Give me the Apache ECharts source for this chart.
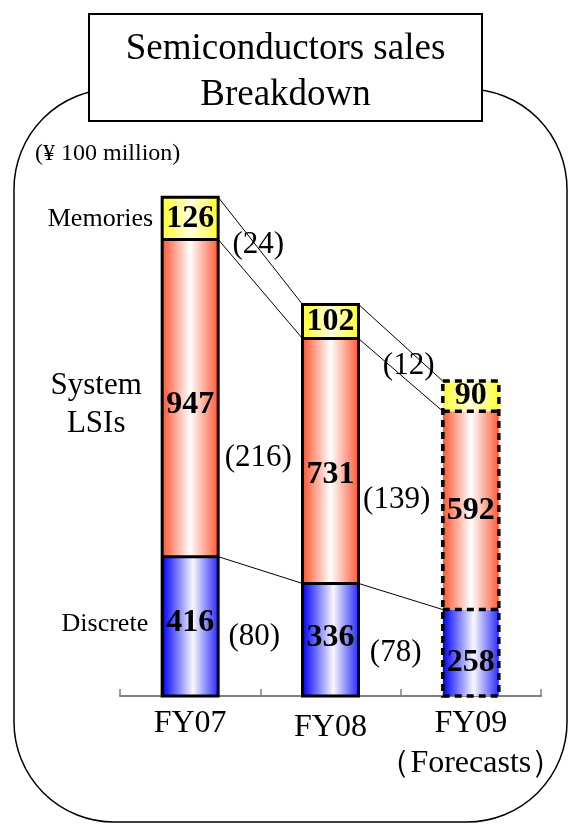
<!DOCTYPE html>
<html>
<head>
<meta charset="utf-8">
<script src="https://cdn.jsdelivr.net/npm/echarts@6/dist/echarts.min.js"></script>
<style>
  html, body { margin: 0; padding: 0; background: #fff; }
  #chart { width: 569px; height: 825px; }
</style>
</head>
<body>
<div id="chart"></div>
<script>
// Semiconductor sales by product group, in units of ¥100 million
const years = ['FY07', 'FY08', 'FY09'];
const yearNotes = ['', '', '（Forecasts）'];
const discrete = [416, 336, 258];
const systemLSIs = [947, 731, 592];
const memories = [126, 102, 90];
const segmentNames = ['Discrete', 'System\nLSIs', 'Memories'];
const forecastFlags = [false, false, true];
const unitText = '(¥ 100 million)';
const titleText = 'Semiconductors sales\nBreakdown';

const SERIF = '"Liberation Serif", "Times New Roman", "DejaVu Serif", serif';
const BAR_W = 56;

const segments = [discrete, systemLSIs, memories];
const palette = [
  { left: '#0000ff', mid: '#f8f8ff', right: '#2a2aff', at: 0.55 },
  { left: '#ff5530', mid: '#ffffff', right: '#ff5a36', at: 0.5 },
  { left: '#ffff33', mid: '#ffffe0', right: '#ffff33', at: 0.5 }
];

function barFill(p) {
  return new echarts.graphic.LinearGradient(0, 0, 1, 0, [
    { offset: 0, color: p.left },
    { offset: p.at, color: p.mid },
    { offset: 1, color: p.right }
  ]);
}

// cumulative top of each stacked segment for a given year
function cumTop(i, level) {
  let s = 0;
  for (let k = 0; k <= level; k++) s += segments[k][i];
  return s;
}
function segCenter(i, level) {
  return cumTop(i, level) - segments[level][i] / 2;
}

// small vertical offsets (px) for the value labels inside the bars: [level][year]
const valueLabelShift = [[-4, -2, 10], [7, 14, 0], [0, 0, 0]];

const barSeries = segments.map((vals, level) => ({
  type: 'bar',
  name: segmentNames[level],
  stack: 'sales',
  barWidth: BAR_W,
  z: 3,
  data: vals.map((v, i) => ({
    value: v,
    itemStyle: { color: barFill(palette[level]), borderWidth: 0 },
    label: { offset: [0, valueLabelShift[level][i]] }
  })),
  label: {
    show: true,
    position: 'inside',
    color: '#000',
    fontFamily: SERIF,
    fontWeight: 'bold',
    fontSize: 32
  }
}));

// outline of each bar plus the boundaries between its segments
const outlineSeries = {
  type: 'custom',
  z: 4,
  silent: true,
  data: years.map((y, i) => [i]),
  encode: { x: 0, y: -1 },
  renderItem: function (params, api) {
    const i = api.value(0);
    const half = BAR_W / 2;
    const top = api.coord([i, cumTop(i, segments.length - 1)]);
    const base = api.coord([i, 0]);
    const dashed = forecastFlags[i];
    const stroke = dashed
      ? { stroke: '#000', lineWidth: 3.5, lineDash: [7, 5], fill: 'none' }
      : { stroke: '#000', lineWidth: 3, fill: 'none' };
    const children = [{
      type: 'rect',
      shape: { x: top[0] - half, y: top[1], width: BAR_W, height: base[1] - top[1] },
      style: stroke
    }];
    for (let level = 0; level < segments.length - 1; level++) {
      const p = api.coord([i, cumTop(i, level)]);
      children.push({
        type: 'line',
        shape: { x1: p[0] - half, y1: p[1], x2: p[0] + half, y2: p[1] },
        style: stroke
      });
    }
    return { type: 'group', children: children };
  }
};

// label nudges (px) for the change labels: [pair][level]
const diffNudge = [
  [[-6, 4], [-2, 28], [-2, -25]],
  [[-5, 7], [-4, 14], [8, 7]]
];

// connectors between consecutive bars plus the year-on-year change labels
const connectorData = [];
for (let i = 0; i < years.length - 1; i++) {
  for (let level = 0; level < segments.length; level++) connectorData.push([i, level]);
}

const connectorSeries = {
  type: 'custom',
  z: 2,
  silent: true,
  data: connectorData,
  encode: { x: 0, y: -1 },
  renderItem: function (params, api) {
    const i = api.value(0);
    const level = api.value(1);
    const half = BAR_W / 2;
    const a = api.coord([i, cumTop(i, level)]);
    const b = api.coord([i + 1, cumTop(i + 1, level)]);
    const ca = api.coord([i, segCenter(i, level)]);
    const cb = api.coord([i + 1, segCenter(i + 1, level)]);
    const change = segments[level][i] - segments[level][i + 1];
    const nudge = diffNudge[i][level];
    const lx = ((a[0] + half) + (b[0] - half)) / 2 + nudge[0];
    const ly = (ca[1] + cb[1]) / 2 + nudge[1];
    return {
      type: 'group',
      children: [
        {
          type: 'line',
          shape: { x1: a[0] + half, y1: a[1], x2: b[0] - half, y2: b[1] },
          style: { stroke: '#000', lineWidth: 1 }
        },
        {
          type: 'text',
          x: lx, y: ly,
          style: {
            text: '(' + change + ')',
            fill: '#000',
            font: '31px ' + SERIF,
            align: 'center',
            verticalAlign: 'middle'
          }
        }
      ]
    };
  }
};

const chart = echarts.init(document.getElementById('chart'), null, { renderer: 'canvas' });

chart.setOption({
  animation: false,
  backgroundColor: '#fff',
  grid: { left: 120, right: 28, top: 193.5, bottom: 129, containLabel: false },
  xAxis: {
    type: 'category',
    data: years.map((y, i) => (i === 1 ? { value: y, textStyle: { padding: [4, 0, 0, 0] } } : y)),
    axisLine: { lineStyle: { color: '#808080', width: 2 } },
    axisTick: { show: true, inside: true, interval: 0, length: 7, lineStyle: { color: '#808080', width: 1.5 } },
    axisLabel: {
      interval: 0,
      margin: 8,
      color: '#000',
      fontFamily: SERIF,
      fontSize: 32,
      lineHeight: 40,
      formatter: function (v, idx) {
        return yearNotes[idx] ? v + '\n' + yearNotes[idx] : v;
      }
    }
  },
  yAxis: {
    type: 'value',
    min: 0,
    max: 1500,
    show: false
  },
  series: barSeries.concat([outlineSeries, connectorSeries]),
  graphic: [
    {
      type: 'rect',
      z: 0,
      shape: { x: 14, y: 89, width: 553, height: 733, r: 100 },
      style: { fill: 'none', stroke: '#000', lineWidth: 1.5 }
    },
    {
      type: 'rect',
      z: 1,
      shape: { x: 89, y: 14, width: 393, height: 107 },
      style: { fill: '#fff', stroke: '#000', lineWidth: 2 }
    },
    {
      type: 'text',
      z: 2,
      x: 285.5, y: 72,
      style: {
        text: titleText,
        font: '37px ' + SERIF,
        lineHeight: 46,
        fill: '#000',
        align: 'center',
        verticalAlign: 'middle'
      }
    },
    {
      type: 'text',
      z: 2,
      x: 35, y: 154,
      style: {
        text: unitText,
        font: '24px ' + SERIF,
        fill: '#000',
        align: 'left',
        verticalAlign: 'middle'
      }
    }
  ]
});

// segment names beside the first bar, anchored to that bar's segments
const sideFonts = [26, 31, 26];
const sideGap = [14, 0, 9];
const sideShift = [-2, 7, 1];
const sideLabels = segments.map((vals, level) => {
  const p = chart.convertToPixel({ seriesIndex: 0 }, [0, segCenter(0, level)]);
  const left = p[0] - BAR_W / 2;
  const multi = segmentNames[level].indexOf('\n') >= 0;
  return {
    type: 'text',
    z: 5,
    x: multi ? left - 66 : left - sideGap[level],
    y: p[1] + sideShift[level],
    style: {
      text: segmentNames[level],
      font: sideFonts[level] + 'px ' + SERIF,
      lineHeight: 38,
      fill: '#000',
      align: multi ? 'center' : 'right',
      verticalAlign: 'middle'
    }
  };
});
const opt = chart.getOption();
chart.setOption({ graphic: opt.graphic[0].elements.concat(sideLabels) });
</script>
</body>
</html>
